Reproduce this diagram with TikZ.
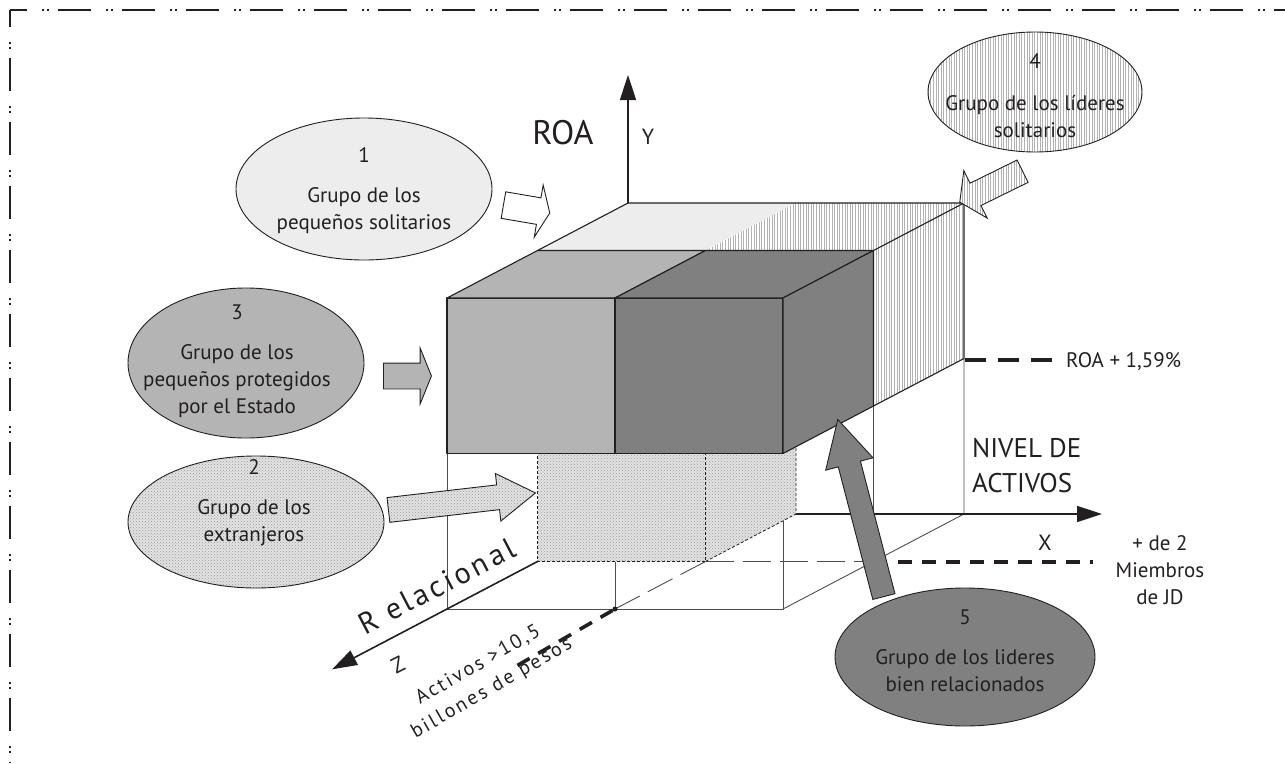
\documentclass[tikz,border=0pt]{standalone}
\usepackage{fontspec}
\setmainfont{PT Sans}
\usetikzlibrary{shapes.geometric,shapes.arrows,arrows.meta,patterns,patterns.meta}

\definecolor{ink}{HTML}{231F20}
\definecolor{palefill}{HTML}{EDEDED}
\definecolor{midfill}{HTML}{B4B4B4}
\definecolor{darkfill}{HTML}{808080}
\definecolor{wire}{HTML}{4D4D4D}

\tikzset{
  hatchfill/.style={preaction={fill=white},
    pattern={Lines[angle=90,distance=2.6pt,line width=0.9pt]}, pattern color=gray!60},
  dotfill/.style={preaction={fill=gray!22}, pattern=crosshatch dots, pattern color=gray!80},
  facebox/.style={draw=ink, line width=1.1pt, line join=round},
  wireline/.style={draw=wire, line width=0.9pt},
  longdash/.style={wireline, dash pattern=on 28pt off 9pt},
  hiddenedge/.style={draw=ink, line width=0.8pt, dash pattern=on 3pt off 2pt},
  leader/.style={draw=ink, line width=3.6pt, dash pattern=on 14pt off 10pt},
  roaleader/.style={draw=ink, line width=3.6pt, dash pattern=on 21pt off 12pt},
  axisline/.style={draw=ink, line width=1.6pt, -{Triangle[length=25pt,width=16pt]}},
  framedash/.style={draw=ink, line width=2pt,
    dash pattern=on 33pt off 15pt on 1.5pt off 3.5pt on 1.5pt off 9.5pt, dash phase=16pt},
  groupbub/.style={ellipse, draw=ink, line width=0.9pt, inner sep=0pt},
  bubtext/.style={align=center, text=ink, inner sep=0pt, font=\fontsize{21}{27}\selectfont},
  blockarrow/.style={single arrow, draw=ink, line width=0.9pt, inner xsep=0pt,
    anchor=tail, single arrow head indent=0pt},
  lbl/.style={text=ink, inner sep=0pt},
}

\begin{document}
\begin{tikzpicture}[x=1pt,y=-1pt]
\useasboundingbox (0,0) rectangle (1285,763);

% dash-dot frame
\draw[framedash] (10,10) -- (1285,10);
\draw[framedash] (10,10) -- (10,763);

% grid points of the 2x2x2 block: (column, level, depth)
\begin{scope}[shift={(628,514)}, x={(168pt,0pt)}, y={(0pt,155.5pt)}, z={(-90.5pt,-47.5pt)}]
  \foreach \i in {0,1,2}{\foreach \j in {0,1,2}{\foreach \k in {0,1,2}{
    \coordinate (p\i\j\k) at (\i,\j,\k);}}}
  \coordinate (ztip) at (0,0,3.27);
\end{scope}
\coordinate (xtip) at (1102,514);
\coordinate (ytip) at (628,75);

% lower wire frame
\draw[wireline] (p012) -- (p002) -- (p202) -- (p212);
\draw[wireline] (p102) -- (p112);
\draw[wireline] (p202) -- (p200) -- (p210);
\draw[wireline] (p201) -- (p211);
\draw[longdash] (p101) -- (p201);
\draw[longdash] (p102) -- (p101);

% axes
\draw[axisline] (p000) -- (xtip);
\draw[axisline] (p000) -- (ytip);
\draw[axisline] (p000) -- (ztip);

% group 2 block (lower, back, left)
\fill[dotfill] (p001) -- (p101) -- (p111) -- (p011) -- cycle;
\fill[dotfill] (p101) -- (p100) -- (p110) -- (p111) -- cycle;
\draw[hiddenedge] (p011) -- (p001) -- (p101) -- (p111);
\draw[hiddenedge] (p101) -- (p100) -- (p110);

% groups 1 and 4 (upper, back)
\fill[palefill] (p020) -- (p120) -- (p121) -- (p021) -- cycle;
\fill[hatchfill] (p120) -- (p220) -- (p221) -- (p121) -- cycle;
\fill[hatchfill] (p220) -- (p210) -- (p211) -- (p221) -- cycle;
\draw[facebox] (p021) -- (p020) -- (p220) -- (p210) -- (p211);
\draw[facebox] (p220) -- (p221);

% groups 3 and 5 (upper, front)
\filldraw[facebox, fill=midfill] (p012) -- (p112) -- (p122) -- (p022) -- cycle;
\filldraw[facebox, fill=midfill] (p022) -- (p122) -- (p121) -- (p021) -- cycle;
\filldraw[facebox, fill=darkfill] (p112) -- (p212) -- (p222) -- (p122) -- cycle;
\filldraw[facebox, fill=darkfill] (p122) -- (p222) -- (p221) -- (p121) -- cycle;
\filldraw[facebox, fill=darkfill] (p212) -- (p211) -- (p221) -- (p222) -- cycle;

% threshold leaders
\coordinate (roastart) at (965,360);
\coordinate (roaend) at (1057,360);
\draw[roaleader] (roastart) -- (roaend);
\coordinate (jdstart) at (898,562);
\coordinate (jdend) at (1093,562);
\draw[leader] (jdstart) -- (jdend);
\node[circle, fill=ink, inner sep=0pt, minimum size=5pt] (dot) at (p102) {};
\coordinate (actend) at (513,668);
\draw[leader] (dot) -- (actend);

% axis and threshold labels
\node[lbl, font=\fontsize{34}{40}\selectfont] (roa) at (563,133) {ROA};
\node[lbl, font=\fontsize{22}{26}\selectfont] (ylab) at (648,137) {Y};
\node[lbl, font=\fontsize{27}{35}\selectfont, align=left, anchor=west] (nivel) at (972,466) {NIVEL DE\\ACTIVOS};
\node[lbl, font=\fontsize{22}{26}\selectfont] (xlab) at (1045,543) {X};
\node[lbl, font=\fontsize{21}{27}\selectfont, align=center] (jd) at (1160,570) {+ de 2\\Miembros\\de JD};
\node[lbl, font=\fontsize{21}{25}\selectfont, anchor=west] (roapct) at (1066,362) {ROA + 1,59\%};
\node[lbl, rotate=27.5, font=\fontsize{30}{34}\selectfont\addfontfeatures{LetterSpace=11}] (rel) at (437,586) {R elacional};
\node[lbl, rotate=27, font=\fontsize{22}{26}\selectfont] (zlab) at (398,665) {Z};
\node[lbl, rotate=30, align=center, font=\fontsize{20}{27}\selectfont\addfontfeatures{LetterSpace=12}] (activos) at (485,677) {Activos >10,5\\billones de pesos};

% group bubbles
\node[groupbub, fill=palefill, minimum width=256pt, minimum height=142pt] (e1) at (364,189) {};
\node[bubtext] (t1) at (364,191) {1\\[13pt]Grupo de los\\pequeños solitarios};
\node[groupbub, fill=midfill, minimum width=236pt, minimum height=150pt] (e3) at (246,363) {};
\node[bubtext] (t3) at (237,361) {3\\[13pt]Grupo de los\\pequeños protegidos\\por el Estado};
\node[groupbub, dotfill, minimum width=256pt, minimum height=132pt] (e2) at (256,522) {};
\node[bubtext] (t2) at (254,503) {2\\[13pt]Grupo de los\\extranjeros};
\node[groupbub, hatchfill, minimum width=214pt, minimum height=120pt] (e4) at (1035,92) {};
\node[bubtext] (t4) at (1035,96) {4\\[15pt]Grupo de los líderes\\solitarios};
\node[groupbub, fill=darkfill, minimum width=260pt, minimum height=138pt] (e5) at (965,657) {};
\node[bubtext] (t5) at (965,651) {5\\[13pt]Grupo de los lideres\\bien relacionados};

% block arrows from the bubbles to their cells
\node[blockarrow, fill=white, inner ysep=13pt, single arrow head extend=13pt,
  single arrow tip angle=134, minimum height=47pt, rotate=-9.7] (a1) at (503,205) {};
\node[blockarrow, fill=midfill, inner ysep=12.5pt, single arrow head extend=15pt,
  single arrow tip angle=136, minimum height=48pt] (a3) at (383,376) {};
\node[blockarrow, dotfill, inner ysep=12pt, single arrow head extend=11.5pt,
  single arrow tip angle=65, minimum height=148pt, rotate=6.6] (a2) at (388,510) {};
\node[blockarrow, hatchfill, inner ysep=12pt, single arrow head extend=14pt,
  single arrow tip angle=113, minimum height=70pt, rotate=206.2] (a4) at (1023,171) {};
\node[blockarrow, fill=darkfill, inner ysep=11pt, single arrow head extend=13pt,
  single arrow tip angle=56, minimum height=183pt, rotate=104.6] (a5) at (884,597) {};
\end{tikzpicture}
\end{document}
